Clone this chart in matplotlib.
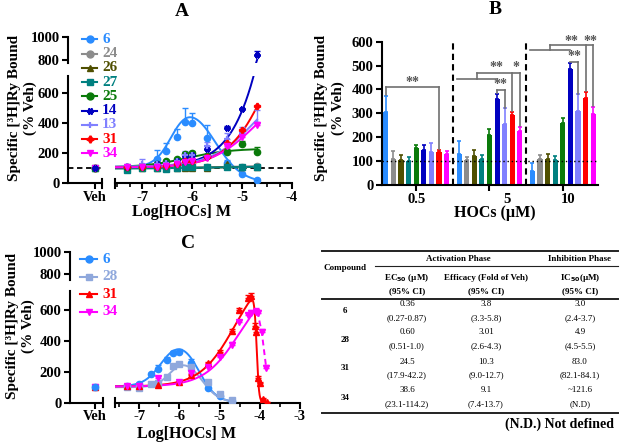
import numpy as np
import matplotlib
matplotlib.use('Agg')
import matplotlib.pyplot as plt
from matplotlib.lines import Line2D
import matplotlib.transforms as mtransforms

plt.rcParams['font.family'] = ['Liberation Serif', 'DejaVu Serif']
plt.rcParams['font.weight'] = 'bold'
plt.rcParams['axes.linewidth'] = 1.5
plt.rcParams['xtick.major.width'] = 1.5
plt.rcParams['ytick.major.width'] = 1.5
plt.rcParams['xtick.minor.width'] = 1.2
plt.rcParams['xtick.major.size'] = 4
plt.rcParams['ytick.major.size'] = 4
plt.rcParams['xtick.minor.size'] = 3
plt.rcParams['xtick.labelsize'] = 10.5
plt.rcParams['ytick.labelsize'] = 10.5
plt.rcParams['xtick.major.pad'] = 1.5
plt.rcParams['ytick.major.pad'] = 2

# ---------------- data ----------------
# Panel A
conc_A = [-7.3, -7.0, -6.7, -6.52, -6.3, -6.15, -6.0, -5.7, -5.3, -5.0, -4.7]
names_A = ['6', '24', '26', '27', '25', '14', '13', '31', '34']
colors_A = ['#2a8cff', '#8c8c8c', '#4f4f00', '#008080', '#0a7a0a', '#0000c0', '#8080ff', '#ff0000', '#ff00ff']
markers_A = ['o', 'o', '^', 's', 'o', (6, 2, 90), '+', (4, 1, 0), 'v']
vals_A = {
    '6':  [110, 108, 160, 215, 305, 405, 400, 300, 135, 60, 25],
    '24': [100, 105, 105, 100, 105, 105, 110, 105, 115, 110, 115],
    '26': [100, 100, 100, 100, 100, 100, 100, 100, 125, 105, 110],
    '27': [90, 100, 100, 95, 100, 105, 105, 105, 110, 105, 110],
    '25': [105, 110, 130, 145, 160, 195, 200, 180, 210, 260, 210],
    '14': [110, 115, 125, 130, 145, 180, 185, 230, 365, 490, 845],
    '13': [115, 125, 125, 135, 150, 190, 190, 245, 290, 335, 400],
    '31': [105, 105, 110, 115, 130, 150, 150, 175, 265, 350, 510],
    '34': [105, 105, 110, 115, 125, 140, 145, 170, 245, 305, 385],
}
errs_A = {
    '6':  [10, 10, 60, 50, 55, 95, 65, 85, 20, 10, 5],
    '24': [5, 5, 5, 5, 5, 5, 5, 5, 10, 5, 5],
    '26': [5, 5, 5, 5, 5, 5, 5, 5, 10, 5, 5],
    '27': [5, 5, 5, 5, 5, 5, 5, 5, 10, 5, 5],
    '25': [5, 5, 10, 10, 10, 15, 15, 10, 15, 20, 30],
    '14': [5, 5, 10, 10, 10, 20, 15, 20, 15, 10, 30],
    '13': [10, 35, 20, 15, 15, 25, 20, 30, 40, 40, 85],
    '31': [5, 5, 5, 5, 5, 5, 10, 10, 10, 10, 10],
    '34': [5, 5, 5, 5, 5, 5, 10, 10, 10, 15, 20],
}
veh_A = [100, 100, 100, 100, 100, 100, 100, 100, 100]
# fit parameters: bottom, top, logEC50, hill, logIC50, hill2
fit_A = {
    '6':  (105, 560, -6.4, 2.5, -5.55, 1.6),
    '24': (100, 115, -5.5, 1.0, None, None),
    '26': (100, 110, -5.5, 1.0, None, None),
    '27': (98, 110, -5.8, 1.0, None, None),
    '25': (105, 230, -6.1, 1.0, None, None),
    '14': (105, 5000, -3.92, 1.0, None, None),
    '13': (110, 700, -4.75, 1.0, None, None),
    '31': (105, 1500, -4.31, 1.0, None, None),
    '34': (105, 650, -4.75, 1.0, None, None),
}

# Panel B
groups_B = ['0.5', '5', '10']
bars_B = [
    [305, 110, 104, 101, 155, 145, 138, 137, 130],
    [128, 104, 121, 108, 208, 362, 256, 292, 228],
    [59, 108, 110, 106, 258, 484, 310, 366, 297],
]
bars_err_B = [
    [67, 31, 20, 16, 14, 21, 38, 11, 11],
    [58, 13, 24, 19, 27, 21, 65, 15, 14],
    [33, 16, 20, 14, 21, 26, 70, 22, 28],
]

# Panel C
names_C = ['6', '28', '31', '34']
colors_C = ['#2a8cff', '#8fa8dc', '#ff0000', '#ff00ff']
markers_C = ['o', 's', '^', 'v']
conc_C = {
    '6':  [-7.3, -7.0, -6.7, -6.52, -6.3, -6.15, -6.0, -5.7, -5.3, -5.0, -4.7],
    '28': [-7.3, -7.0, -6.7, -6.52, -6.3, -6.15, -6.0, -5.7, -5.3, -5.0, -4.7],
    '31': [-7.3, -7.0, -6.52, -6.0, -5.7, -5.3, -5.0, -4.7, -4.52, -4.3, -4.22,
           -4.12, -4.1, -4.05, -4.0, -3.92, -3.82],
    '34': [-7.3, -7.0, -6.52, -6.0, -5.7, -5.3, -5.0, -4.7, -4.52, -4.3, -4.22,
           -4.1, -4.05, -3.95, -3.84],
}
vals_C = {
    '6':  [105, 120, 185, 215, 275, 320, 330, 255, 95, 45, 12],
    '28': [100, 95, 120, 126, 166, 235, 250, 230, 132, 56, 15],
    '31': [105, 110, 115, 135, 180, 255, 330, 465, 600, 680, 690, 495, 460, 160, 125, 25, 3],
    '34': [105, 110, 160, 135, 195, 230, 295, 375, 520, 570, 580, 585, 580, 455, 225],
}
errs_C = {
    '6':  [5, 5, 10, 30, 20, 15, 15, 25, 5, 5, 3],
    '28': [5, 5, 5, 5, 5, 10, 10, 10, 5, 5, 3],
    '31': [3, 3, 10, 5, 5, 10, 10, 10, 10, 15, 20, 20, 30, 15, 10, 5, 2],
    '34': [5, 5, 10, 10, 10, 10, 10, 15, 15, 10, 20, 30, 20, 25, 20],
}
veh_C = [100, 100, 100, 100]
fit_C = {
    '6':  (105, 420, -6.44, 2.0, -5.52, 2.0),
    '28': (100, 300, -6.22, 2.5, -5.45, 2.0),
    '31': (105, 900, -4.61, 1.0, -4.08, 15.0),
    '34': (105, 800, -4.5, 1.0, None, None),
}
fit_end_C = {'6': -4.7, '28': -4.7, '31': -3.82, '34': -4.1}

# Table
tab_compounds = ['6', '28', '31', '34']
tab_ec50 = ['0.36', '0.60', '24.5', '38.6']
tab_ec50_ci = ['(0.27-0.87)', '(0.51-1.0)', '(17.9-42.2)', '(23.1-114.2)']
tab_eff = ['3.8', '3.01', '10.3', '9.1']
tab_eff_ci = ['(3.3-5.8)', '(2.6-4.3)', '(9.0-12.7)', '(7.4-13.7)']
tab_ic50 = ['3.0', '4.9', '83.0', '~121.6']
tab_ic50_ci = ['(2.4-3.7)', '(4.5-5.5)', '(82.1-84.1)', '(N.D)']

# ---------------- helpers ----------------
W, H = 625, 446
fig = plt.figure(figsize=(W / 100, H / 100), dpi=100)


def rect(x0, y0, x1, y1):
    return [x0 / W, 1 - y1 / H, (x1 - x0) / W, (y1 - y0) / H]


def fx(x):
    return x / W


def fy(y):
    return 1 - y / H


def model(x, p):
    b, T, c1, h1, c2, h2 = p
    y = b + (T - b) / (1 + 10 ** ((c1 - x) * h1))
    if c2 is not None:
        y = y / (1 + 10 ** ((x - c2) * h2))
    return y


def style_ax(ax, left=True, bottom=True):
    for s in ['top', 'right']:
        ax.spines[s].set_visible(False)
    ax.spines['left'].set_visible(left)
    ax.spines['bottom'].set_visible(bottom)
    ax.patch.set_alpha(0)
    if not left:
        ax.tick_params(axis='y', left=False, labelleft=False)
    if not bottom:
        ax.tick_params(axis='x', bottom=False, labelbottom=False)


THIN = ['+', (6, 2, 90), (4, 1, 0)]


def ebar(ax, x, y, e, col, mk, ms=4.5, lw=1.0, z=3):
    x = np.asarray(x, float)
    y = np.asarray(y, float)
    e = np.asarray(e, float)
    mew = 1.6 if mk in THIN else 1.0
    ax.errorbar(x, y, yerr=[np.zeros_like(e), e], fmt='none', ecolor=col,
                elinewidth=lw, capsize=2, capthick=lw, zorder=z)
    ax.plot(x, y, linestyle='none', marker=mk, color=col, ms=ms, mew=mew, zorder=z + 1)


def break_marks(xs, y0, y1):
    for x in xs:
        fig.add_artist(Line2D([fx(x), fx(x)], [fy(y0), fy(y1)], color='k', lw=1.5,
                              transform=fig.transFigure))


# ---------------- Panel A ----------------
A_low = (75.7, 183.3)
axA_veh = fig.add_axes(rect(68, A_low[0], 102, A_low[1]))
axA = fig.add_axes(rect(115, A_low[0], 292, A_low[1]))
A_xl = (-7.55, -4.0)
ppu = (292 - 115) / (A_xl[1] - A_xl[0])
axA_up = fig.add_axes(rect(68, 37.3, 292, 63))
axA_up.set_xlim(A_xl[0] - (115 - 68) / ppu, A_xl[1])
axA_up.set_ylim(773.6, 1000)
style_ax(axA_up, left=True, bottom=False)
axA_up.set_yticks([800, 1000])

for ax in (axA_veh, axA):
    ax.set_ylim(0, 712)
axA_veh.set_xlim(0, 1)
axA.set_xlim(*A_xl)
style_ax(axA_veh)
style_ax(axA, left=False)
axA_veh.set_yticks([0, 200, 400, 600])
axA_veh.set_xticks([0.79])
axA_veh.set_xticklabels(['Veh'])
axA.set_xticks([-7, -6, -5, -4])
axA.set_xticks(np.arange(-7.5, -4.0, 0.25), minor=True)
axA.set_xticklabels(['-7', '-6', '-5', '-4'])

for ax in (axA_veh, axA):
    ax.axhline(100, color='k', lw=1.3, ls=(0, (3, 2)), zorder=1)

xs = np.linspace(-7.55, -4.7, 400)
veh_order_A = [0, 1, 2, 3, 4, 6, 7, 8, 5]
for i, n in enumerate(names_A):
    col, mk = colors_A[i], markers_A[i]
    for ax in (axA, axA_up):
        ax.plot(xs, model(xs, fit_A[n]), color=col, lw=1.4, zorder=2)
        ebar(ax, conc_A, vals_A[n], errs_A[n], col, mk)
for i in veh_order_A:
    ebar(axA_veh, [0.79], [veh_A[i]], [3], colors_A[i], markers_A[i])

break_marks([102, 115], 179, 188)

fig.text(fx(181.7), fy(11), 'A', fontsize=14, fontweight='bold', ha='center', va='center')
fig.text(fx(182), fy(212), 'Log[HOCs] M', fontsize=11.5, fontweight='bold', ha='center', va='center')
fig.text(fx(15), fy(108), 'Specific [³H]Ry Bound', fontsize=11, fontweight='bold',
         rotation=90, ha='center', va='center')
fig.text(fx(30), fy(108), '(% Veh)', fontsize=11, fontweight='bold',
         rotation=90, ha='center', va='center')

for i, n in enumerate(names_A):
    yy = fy(39.3 + i * 14.25)
    col = colors_A[i]
    fig.add_artist(Line2D([fx(82), fx(97)], [yy, yy], color=col, lw=1.5,
                          transform=fig.transFigure))
    mew = 1.6 if markers_A[i] in THIN else 1.0
    fig.add_artist(Line2D([fx(89.5)], [yy], marker=markers_A[i], color=col, ms=5, mew=mew,
                          transform=fig.transFigure))
    fig.text(fx(102), yy, n, color=col, fontsize=11, fontweight='bold', ha='left', va='center')

# ---------------- Panel B ----------------
axB = fig.add_axes(rect(381.7, 41.7, 598, 185))
axB.set_xlim(-0.47, 2.48)
axB.set_ylim(0, 600)
style_ax(axB)
step = 0.1036
bw = 0.07
for g in range(3):
    for i in range(9):
        xpos = g + (i - 4) * step
        col = colors_A[i]
        axB.bar(xpos, bars_B[g][i], width=bw, color=col, zorder=2)
        axB.errorbar(xpos, bars_B[g][i], yerr=[[0], [bars_err_B[g][i]]], fmt='none',
                     ecolor=col, elinewidth=1.2, capsize=1.5, capthick=1.2, zorder=2)
axB.axhline(100, color='k', lw=1.0, ls=(0, (1, 2)), zorder=3)
for xv in (0.5, 1.5):
    axB.axvline(xv, color='k', lw=1.5, ls=(0, (3, 2)), zorder=3)
axB.set_yticks(range(0, 601, 100))
axB.set_xticks([0, 1, 2])
axB.set_xticklabels(groups_B)
offs = [0, 18, 5]
for lab, o in zip(axB.get_xticklabels(), offs):
    lab.set_transform(lab.get_transform() + mtransforms.ScaledTranslation(o / 100, 0, fig.dpi_scale_trans))


def bx(g, i):
    return g + (i - 4) * step


bc = '#707070'
blw = 1.2


def bl(xa, xb, ya, yb):
    axB.plot([xa, xb], [ya, yb], color=bc, lw=blw, clip_on=False, zorder=4)


def star(x, y, s):
    axB.text(x, y, s, color='#555555', fontsize=10, fontweight='bold', ha='center',
             va='center', clip_on=False)


# group 0.5
top = 409
bl(bx(0, 0), bx(0, 7), top, top)
bl(bx(0, 0), bx(0, 0), top, bars_B[0][0] + bars_err_B[0][0] + 5)
bl(bx(0, 7), bx(0, 7), top, bars_B[0][7] + bars_err_B[0][7] + 3)
star((bx(0, 0) + bx(0, 7)) / 2, top + 22, '**')
# group 5 and 10
for g, l1, l2, small, sy in [(1, 443, 470, 398, 490), (2, 565, 586, 516, 600)]:
    xa = bx(g, 0) - bw / 2
    xb = bx(g, 5)
    bl(xa, xb, l1, l1)
    xm = (xa + xb) / 2
    bl(xm, xm, l1, l2)
    bl(xm, bx(g, 8), l2, l2)
    for i in (7, 8):
        bl(bx(g, i), bx(g, i), l2, bars_B[g][i] + bars_err_B[g][i] + 4)
    bl(bx(g, 5), bx(g, 6), small, small)
    for i in (5, 6):
        bl(bx(g, i), bx(g, i), small, bars_B[g][i] + bars_err_B[g][i] + 3)
    star((bx(g, 5) + bx(g, 6)) / 2, small + 22, '**')
    if g == 1:
        star((xm + bx(g, 7)) / 2 + 0.03, sy, '**')
        star((bx(g, 7) + bx(g, 8)) / 2, sy, '*')
    else:
        star((xm + bx(g, 7)) / 2 + 0.05, sy, '**')
        star((bx(g, 7) + bx(g, 8)) / 2 + 0.02, sy, '**')

fig.text(fx(495), fy(9), 'B', fontsize=14, fontweight='bold', ha='center', va='center')
fig.text(fx(495), fy(213), 'HOCs (µM)', fontsize=11.5, fontweight='bold', ha='center', va='center')
fig.text(fx(321.7), fy(108), 'Specific [³H]Ry Bound', fontsize=11, fontweight='bold',
         rotation=90, ha='center', va='center')
fig.text(fx(338), fy(108), '(% Veh)', fontsize=11, fontweight='bold',
         rotation=90, ha='center', va='center')

# ---------------- Panel C ----------------
C_low = (290.7, 402.7)
axC_veh = fig.add_axes(rect(70, C_low[0], 103, C_low[1]))
axC = fig.add_axes(rect(115, C_low[0], 300, C_low[1]))
C_xl = (-7.6, -3.0)
ppuC = (300 - 115) / (C_xl[1] - C_xl[0])
axC_up = fig.add_axes(rect(70, 251.7, 300, 280))
axC_up.set_xlim(C_xl[0] - (115 - 70) / ppuC, C_xl[1])
axC_up.set_ylim(749.6, 1000)
style_ax(axC_up, left=True, bottom=False)
axC_up.set_yticks([800, 1000])
for ax in (axC_veh, axC):
    ax.set_ylim(0, 725)
axC_veh.set_xlim(0, 1)
axC.set_xlim(*C_xl)
style_ax(axC_veh)
style_ax(axC, left=False)
axC_veh.set_yticks([0, 200, 400, 600])
axC_veh.set_xticks([0.76])
axC_veh.set_xticklabels(['Veh'])
axC.set_xticks([-7, -6, -5, -4, -3])
axC.set_xticks(np.arange(-7.5, -3.0, 0.5), minor=True)
axC.set_xticklabels(['-7', '-6', '-5', '-4', '-3'])

for i, n in enumerate(names_C):
    col, mk = colors_C[i], markers_C[i]
    xc = np.linspace(-7.6, fit_end_C[n], 1500)
    axC.plot(xc, model(xc, fit_C[n]), color=col, lw=1.4, zorder=2)
    ebar(axC, conc_C[n], vals_C[n], errs_C[n], col, mk)
for i in [1, 2, 3, 0]:
    ebar(axC_veh, [0.76], [veh_C[i]], [3], colors_C[i], markers_C[i])
# dashed decline for 34
c34 = np.asarray(conc_C['34'])
v34 = np.asarray(vals_C['34'])
m = c34 >= -4.1
axC.plot(c34[m], v34[m], color=colors_C[3], lw=1.4, ls=(0, (3, 2)), zorder=2)

break_marks([103, 115], 398, 407)

fig.text(fx(188), fy(243), 'C', fontsize=14, fontweight='bold', ha='center', va='center')
fig.text(fx(186.7), fy(434), 'Log[HOCs] M', fontsize=11.5, fontweight='bold', ha='center', va='center')
fig.text(fx(13), fy(326), 'Specific [³H]Ry Bound', fontsize=11, fontweight='bold',
         rotation=90, ha='center', va='center')
fig.text(fx(28), fy(326), '(% Veh)', fontsize=11, fontweight='bold',
         rotation=90, ha='center', va='center')

for i, n in enumerate(names_C):
    yy = fy(259.3 + i * 17.5)
    col = colors_C[i]
    fig.add_artist(Line2D([fx(80), fx(97)], [yy, yy], color=col, lw=1.5,
                          transform=fig.transFigure))
    fig.add_artist(Line2D([fx(88.5)], [yy], marker=markers_C[i], color=col, ms=5,
                          transform=fig.transFigure))
    fig.text(fx(102), yy, n, color=col, fontsize=11, fontweight='bold', ha='left', va='center')

# ---------------- Table ----------------
def hline(x0, x1, y, lw):
    fig.add_artist(Line2D([fx(x0), fx(x1)], [fy(y), fy(y)], color='#222222', lw=lw,
                          transform=fig.transFigure))


tfs = 6.5
hline(322, 618, 251, 1.4)
hline(375, 618, 265.7, 0.8)
hline(322, 618, 299, 1.4)
hline(322, 618, 413, 1.4)
colx = [407, 486, 580]
fig.text(fx(345), fy(268), 'Compound', fontsize=tfs, fontweight='bold', ha='center', va='center')
fig.text(fx(458), fy(259), 'Activation Phase', fontsize=tfs, fontweight='bold', ha='center', va='center')
fig.text(fx(580), fy(259), 'Inhibition Phase', fontsize=tfs, fontweight='bold', ha='center', va='center')
for x, s in zip(colx, ['EC$_{\\mathbf{50}}$ (µM)', 'Efficacy (Fold of Veh)', 'IC$_{\\mathbf{50}}$(µM)']):
    fig.text(fx(x), fy(278), s, fontsize=tfs, fontweight='bold', ha='center', va='center')
    fig.text(fx(x), fy(291), '(95% CI)', fontsize=tfs, fontweight='bold', ha='center', va='center')
row_c = [311, 339.5, 368.5, 397.5]
for r in range(4):
    yc = row_c[r]
    fig.text(fx(345), fy(yc), tab_compounds[r], fontsize=tfs, fontweight='bold', ha='center', va='center')
    for x, a, b in zip(colx, [tab_ec50, tab_eff, tab_ic50], [tab_ec50_ci, tab_eff_ci, tab_ic50_ci]):
        fig.text(fx(x), fy(yc - 7), a[r], fontsize=tfs, fontweight='normal', ha='center', va='center')
        fig.text(fx(x), fy(yc + 7), b[r], fontsize=tfs, fontweight='normal', ha='center', va='center')
fig.text(fx(614), fy(424), '(N.D.) Not defined', fontsize=10, fontweight='bold', ha='right', va='center')

fig.savefig('out.png', dpi=100)
